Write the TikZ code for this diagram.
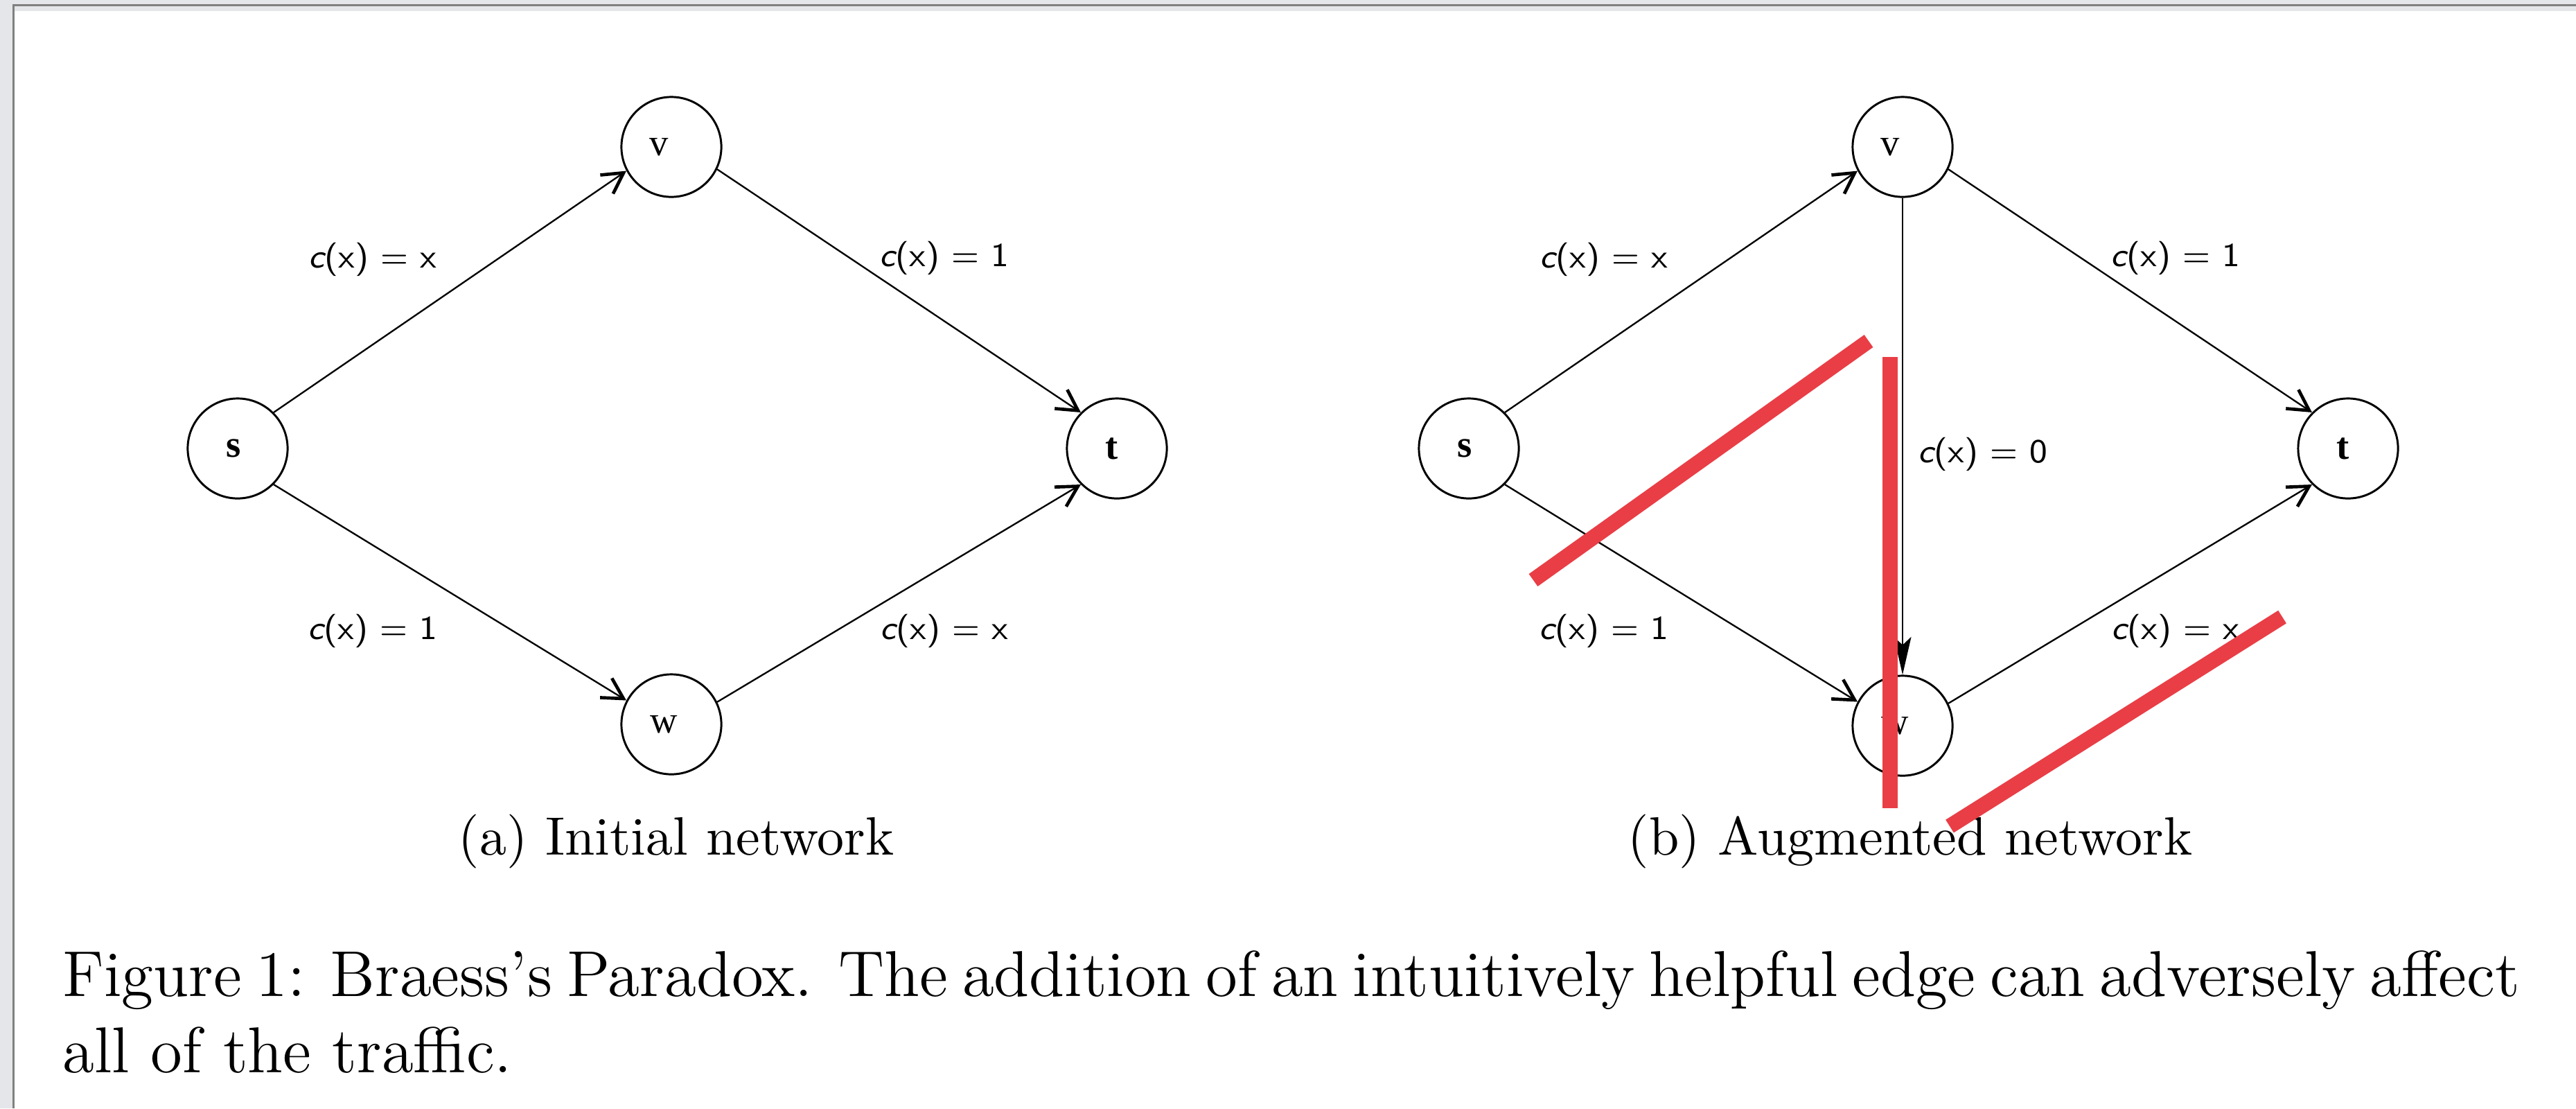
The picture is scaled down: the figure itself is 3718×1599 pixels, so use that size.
\documentclass[tikz,border=0pt]{standalone}
\usepackage{fontspec}
\usetikzlibrary{arrows.meta}
\newfontfamily\nodefont{Liberation Serif}
\definecolor{redmark}{RGB}{233,62,70}
\definecolor{chrome}{RGB}{228,230,233}
\definecolor{chromeline}{RGB}{128,128,128}
\newcommand\costlbl[1]{{\itshape c}(x) = #1}
\tikzset{
  vtx/.style={circle, draw, line width=0.38pt, minimum size=18.5pt, inner sep=0pt,
              font=\nodefont\fontsize{7}{8}\selectfont},
  edgelbl/.style={inner sep=0pt, font=\sffamily\fontsize{6.2}{7}\selectfont},
  arc/.style={line width=0.3pt, -{Straight Barb[length=3.8pt,width=4.2pt,line width=0.6pt]}},
  zeroarc/.style={line width=0.3pt, -{Stealth[length=7pt,width=3.2pt,inset=1.5pt]}},
  strike/.style={draw=redmark, line width=2.82pt},
  subcap/.style={anchor=base, inner sep=0pt, font=\fontsize{10}{12}\selectfont},
  figcap/.style={anchor=base west, inner sep=0pt, font=\fontsize{12}{14.5}\selectfont},
}
\begin{document}
\begin{tikzpicture}[x=0.1283pt, y=-0.1283pt]
\useasboundingbox (0,0) rectangle (3718,1599);
\fill[white] (0,0) rectangle (3718,1599);
% window chrome
\fill[chrome] (0,0) rectangle (3718,16);
\fill[chrome] (0,0) rectangle (18,1599);
\fill[chromeline] (18,6) rectangle (3718,9);
\fill[chromeline] (18,6) rectangle (21,1599);

% ---- (a) initial network
\node[vtx] (s1) at (343,647) {\textbf{s}\kern1.5pt};
\node[vtx] (v1) at (969,212) {v\kern4.6pt};
\node[vtx] (w1) at (969,1045) {w\kern2.8pt};
\node[vtx] (t1) at (1612,647) {\textbf{t}\kern2pt};
\draw[arc] (s1.45) -- (v1.208);
\draw[arc] (s1.-45) -- (w1.152);
\draw[arc] (v1.-26) -- (t1.135);
\draw[arc] (w1.26) -- (t1.225);
\node[edgelbl] (l1a) at (538,374) {\costlbl{x}};
\node[edgelbl] (l1b) at (1363,372) {\costlbl{1}};
\node[edgelbl] (l1c) at (538,910) {\costlbl{1}};
\node[edgelbl] (l1d) at (1363,910) {\costlbl{x}};
\node[subcap] (capa) at (976,1233) {(a) Initial network};

% ---- (b) augmented network
\node[vtx] (s2) at (2120,647) {\textbf{s}\kern1.5pt};
\node[vtx] (v2) at (2746,212) {v\kern4.6pt};
\node[vtx] (w2) at (2746,1047) {w\kern2.8pt};
\node[vtx] (t2) at (3389,647) {\textbf{t}\kern2pt};
\draw[arc] (s2.45) -- (v2.208);
\draw[arc] (s2.-45) -- (w2.152);
\draw[arc] (v2.-26) -- (t2.135);
\draw[arc] (w2.26) -- (t2.225);
\draw[zeroarc] (v2.south) -- (w2.north);
\node[edgelbl] (l2a) at (2315,374) {\costlbl{x}};
\node[edgelbl] (l2b) at (3140,372) {\costlbl{1}};
\node[edgelbl] (l2c) at (2315,910) {\costlbl{1}};
\node[edgelbl] (l2d) at (3140,910) {\costlbl{x}};
\node[edgelbl] (l2e) at (2862,655) {\costlbl{0}};
\node[subcap] (capb) at (2757,1233) {(b) Augmented network};

% red strike-through marks
\draw[strike] (2213,837) -- (2697,492);
\draw[strike] (2728,515) -- (2728,1166);
\draw[strike] (2814,1192) -- (3294,890);

% figure caption
\node[figcap] (cap1) at (89,1437) {\makebox[455pt][s]{Figure 1: Braess's Paradox. The addition of an intuitively helpful edge can adversely affect}};
\node[figcap] (cap2) at (89,1547) {all of the traffic.};
\end{tikzpicture}
\end{document}
